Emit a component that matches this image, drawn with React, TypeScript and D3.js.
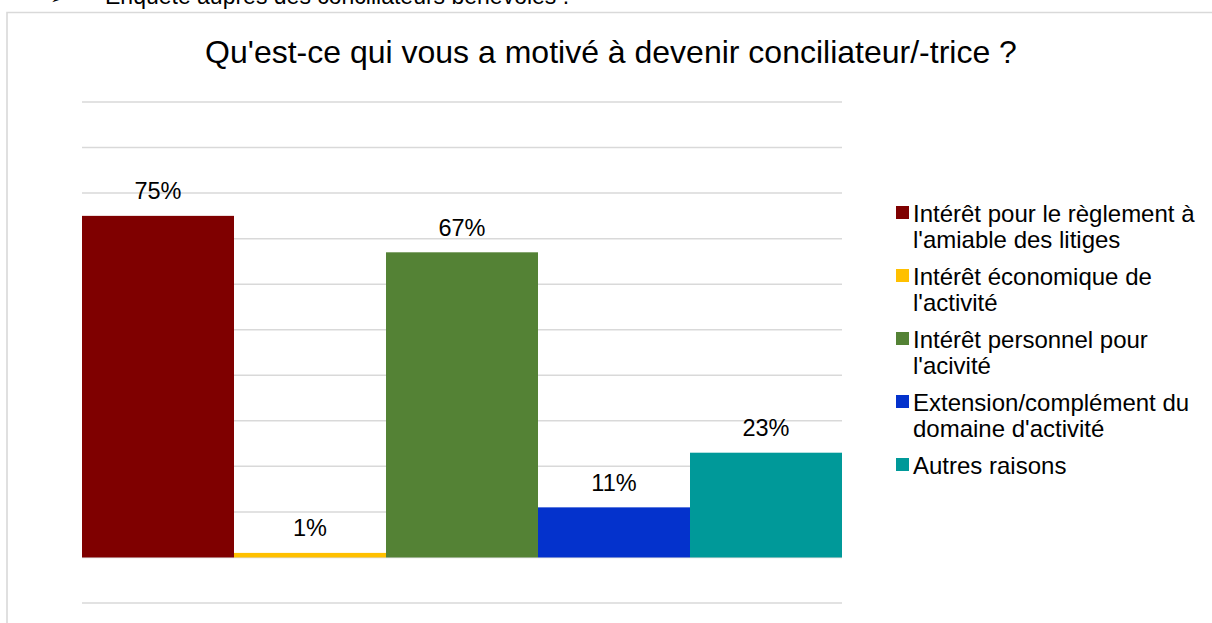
import React from "react";
import * as d3 from "d3";

const categories = [
  "Intérêt pour le règlement à l'amiable des litiges",
  "Intérêt économique de l'activité",
  "Intérêt personnel pour l'acivité",
  "Extension/complément du domaine d'activité",
  "Autres raisons",
];
const legendLines = [
  ["Intérêt pour le règlement à", "l'amiable des litiges"],
  ["Intérêt économique de", "l'activité"],
  ["Intérêt personnel pour", "l'acivité"],
  ["Extension/complément du", "domaine d'activité"],
  ["Autres raisons"],
];
const values = [0.75, 0.01, 0.67, 0.11, 0.23];
const colors = ["#7f0000", "#ffc000", "#548235", "#0432cc", "#009999"];
const gridTicks = [-0.1, 0, 0.1, 0.2, 0.3, 0.4, 0.5, 0.6, 0.7, 0.8, 0.9, 1.0];

const title = "Qu'est-ce qui vous a motivé à devenir conciliateur/-trice ?";
const topText = "Enquête auprès des conciliateurs bénévoles :";

const FONT = "'Liberation Sans', Arial, Helvetica, sans-serif";

export default function App() {
  const W = 1212;
  const H = 623;
  const x = d3.scaleBand<string>().domain(categories).range([82, 842]).padding(0);
  const y = d3.scaleLinear().domain([-0.1, 1.0]).range([603, 102]);
  const fmt = d3.format(".0%");

  return (
    <svg
      width={W}
      height={H}
      style={{ position: "fixed", left: 0, top: 0, background: "#fff" }}
      fontFamily={FONT}
    >
      <rect x={0} y={0} width={W} height={H} fill="#fff" />
      {/* cut-off heading above the chart */}
      <text x={50} y={4} fontSize={20} fill="#000" fontFamily="DejaVu Sans">➢</text>
      <text x={105} y={4} fontSize={23} fill="#000">{topText}</text>
      {/* chart border */}
      <path d={`M7,${H + 5} V12.5 H${W + 5}`} fill="none" stroke="#d9d9d9" strokeWidth={1.6} />
      {/* title */}
      <text x={611} y={63} fontSize={32} textAnchor="middle" fill="#000">{title}</text>
      {/* gridlines */}
      {gridTicks.map((t) => (
        <line key={t} x1={82} x2={842} y1={y(t)} y2={y(t)} stroke="#d9d9d9" strokeWidth={1.5} />
      ))}
      {/* bars */}
      {categories.map((c, i) => (
        <rect
          key={c}
          x={x(c)}
          y={y(values[i])}
          width={x.bandwidth()}
          height={y(0) - y(values[i])}
          fill={colors[i]}
        />
      ))}
      {/* data labels */}
      {categories.map((c, i) => (
        <text
          key={c + "l"}
          x={(x(c) as number) + x.bandwidth() / 2}
          y={y(values[i]) - 16.7}
          fontSize={23.5}
          textAnchor="middle"
          fill="#000"
        >
          {fmt(values[i])}
        </text>
      ))}
      {/* legend */}
      {legendLines.map((lines, i) => {
        const top = 205 + i * 63;
        return (
          <g key={i}>
            <rect x={896} y={top + 1} width={13} height={13} fill={colors[i]} />
            {lines.map((ln, j) => (
              <text key={j} x={913} y={top + 16.7 + j * 26.7} fontSize={24} fill="#000">
                {ln}
              </text>
            ))}
          </g>
        );
      })}
    </svg>
  );
}
